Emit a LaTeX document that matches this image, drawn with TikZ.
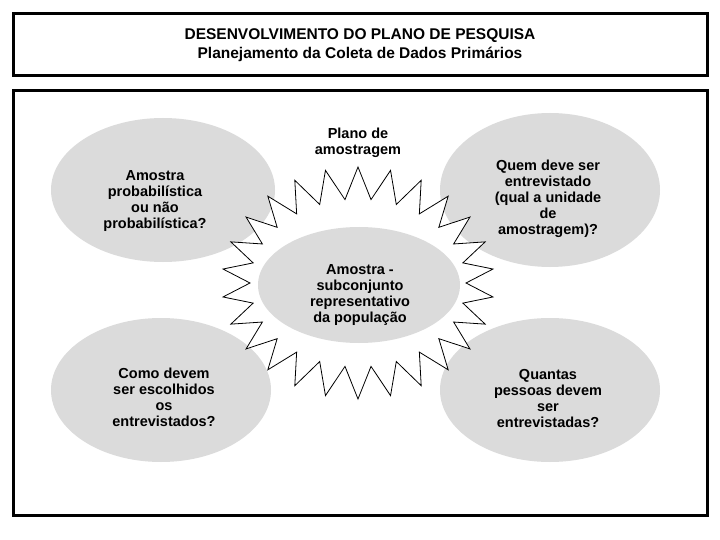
\documentclass[tikz,border=0pt]{standalone}
\usepackage{fontspec}
\setmainfont{Liberation Sans}
\begin{document}
\begin{tikzpicture}[x=1pt,y=-1pt,
  bub/.style={fill=gray!28,draw=none},
  txt/.style={font=\bfseries\fontsize{14.5}{16}\selectfont,align=center,inner sep=0pt},
  frame/.style={draw=black,line width=3pt}]
\useasboundingbox (0,0) rectangle (720,540);
\fill[white] (0,0) rectangle (720,540);
\node[frame,minimum width=694,minimum height=62,inner sep=0pt,
  font=\bfseries\fontsize{15.5}{19}\selectfont,align=center] (title) at (360,45)
  {DESENVOLVIMENTO DO PLANO DE PESQUISA\\Planejamento da Coleta de Dados Primários};
\node[frame,minimum width=694,minimum height=424,inner sep=0pt] (main) at (360,303) {};
\fill[bub] (163,190) ellipse (112 and 72);
\fill[bub] (161,390) ellipse (110 and 72);
\fill[bub] (550,190) ellipse (110 and 77);
\fill[bub] (550,390) ellipse (110 and 72);
\foreach \k in {0,...,51}{
  \pgfmathsetmacro\sang{\k*6.9231+90}
  \pgfmathsetmacro\srx{isodd(\k)?108:136}
  \pgfmathsetmacro\sry{isodd(\k)?84:116}
  \coordinate (s\k) at ({358+\srx*cos(\sang)},{283-\sry*sin(\sang)});
}
\draw[fill=white,line width=0.8pt] (s0) \foreach \k in {1,...,51}{ -- (s\k)} -- cycle;
\fill[bub] (359,285) ellipse (101 and 58);
\node[txt] (a) at (155,201) {Amostra\\probabilística\\ou não\\probabilística?};
\node[txt] (b) at (358,143) {Plano de\\amostragem};
\node[txt] (c) at (548,199) {Quem deve ser\\entrevistado\\(qual a unidade\\de\\amostragem)?};
\node[txt] (d) at (360,295) {Amostra -\\subconjunto\\representativo\\da população};
\node[txt] (e) at (164,397) {Como devem\\ser escolhidos\\os\\entrevistados?};
\node[txt] (f) at (548,399) {Quantas\\pessoas devem\\ser\\entrevistadas?};
\end{tikzpicture}
\end{document}
